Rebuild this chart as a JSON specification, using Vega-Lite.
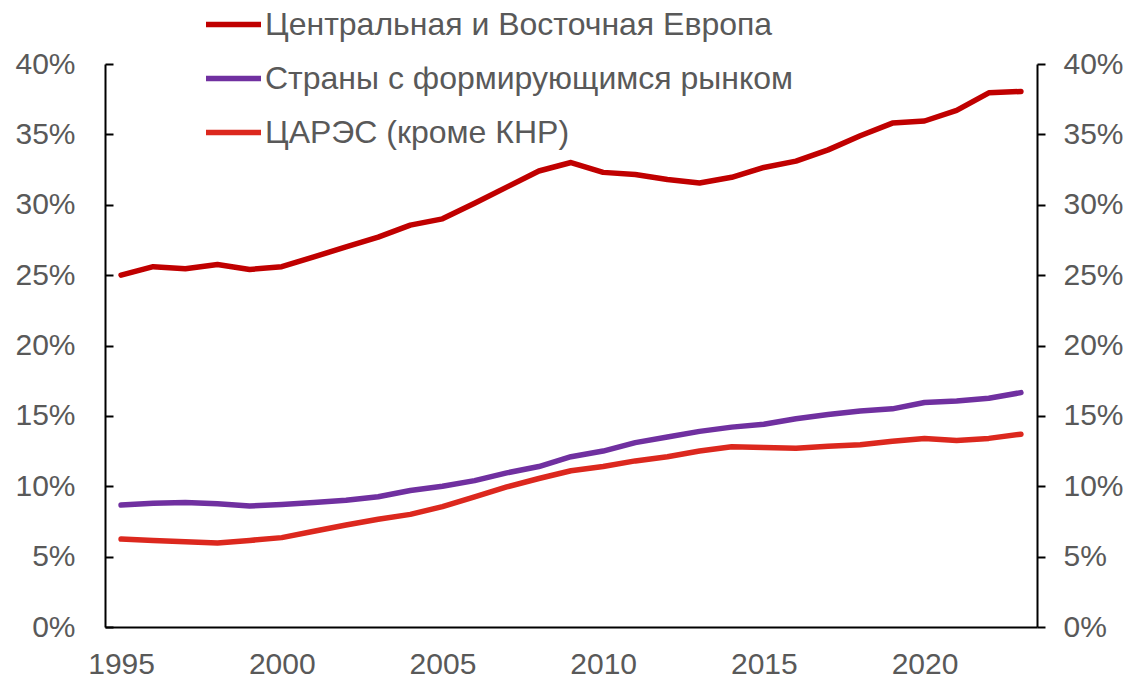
{
  "$schema": "https://vega.github.io/schema/vega-lite/v6.json",
  "width": 932,
  "height": 563,
  "autosize": {"type": "none"},
  "padding": {"left": 105, "top": 64, "right": 95, "bottom": 51},
  "background": "white",
  "config": {"view": {"stroke": null}, "font": "Liberation Sans"},
  "data": {
    "values": [
      {"year": 1995, "series": "Центральная и Восточная Европа", "value": 0.25},
      {"year": 1996, "series": "Центральная и Восточная Европа", "value": 0.256},
      {"year": 1997, "series": "Центральная и Восточная Европа", "value": 0.2545},
      {"year": 1998, "series": "Центральная и Восточная Европа", "value": 0.2575},
      {"year": 1999, "series": "Центральная и Восточная Европа", "value": 0.254},
      {"year": 2000, "series": "Центральная и Восточная Европа", "value": 0.256},
      {"year": 2001, "series": "Центральная и Восточная Европа", "value": 0.263},
      {"year": 2002, "series": "Центральная и Восточная Европа", "value": 0.27},
      {"year": 2003, "series": "Центральная и Восточная Европа", "value": 0.277},
      {"year": 2004, "series": "Центральная и Восточная Европа", "value": 0.2855},
      {"year": 2005, "series": "Центральная и Восточная Европа", "value": 0.29},
      {"year": 2006, "series": "Центральная и Восточная Европа", "value": 0.301},
      {"year": 2007, "series": "Центральная и Восточная Европа", "value": 0.3125},
      {"year": 2008, "series": "Центральная и Восточная Европа", "value": 0.324},
      {"year": 2009, "series": "Центральная и Восточная Европа", "value": 0.33},
      {"year": 2010, "series": "Центральная и Восточная Европа", "value": 0.323},
      {"year": 2011, "series": "Центральная и Восточная Европа", "value": 0.3215},
      {"year": 2012, "series": "Центральная и Восточная Европа", "value": 0.318},
      {"year": 2013, "series": "Центральная и Восточная Европа", "value": 0.3155},
      {"year": 2014, "series": "Центральная и Восточная Европа", "value": 0.3195},
      {"year": 2015, "series": "Центральная и Восточная Европа", "value": 0.3265},
      {"year": 2016, "series": "Центральная и Восточная Европа", "value": 0.331},
      {"year": 2017, "series": "Центральная и Восточная Европа", "value": 0.339},
      {"year": 2018, "series": "Центральная и Восточная Европа", "value": 0.349},
      {"year": 2019, "series": "Центральная и Восточная Европа", "value": 0.358},
      {"year": 2020, "series": "Центральная и Восточная Европа", "value": 0.3595},
      {"year": 2021, "series": "Центральная и Восточная Европа", "value": 0.367},
      {"year": 2022, "series": "Центральная и Восточная Европа", "value": 0.3795},
      {"year": 2023, "series": "Центральная и Восточная Европа", "value": 0.3805},
      {"year": 1995, "series": "Страны с формирующимся рынком", "value": 0.0867},
      {"year": 1996, "series": "Страны с формирующимся рынком", "value": 0.088},
      {"year": 1997, "series": "Страны с формирующимся рынком", "value": 0.0885},
      {"year": 1998, "series": "Страны с формирующимся рынком", "value": 0.0875},
      {"year": 1999, "series": "Страны с формирующимся рынком", "value": 0.086},
      {"year": 2000, "series": "Страны с формирующимся рынком", "value": 0.087},
      {"year": 2001, "series": "Страны с формирующимся рынком", "value": 0.0885},
      {"year": 2002, "series": "Страны с формирующимся рынком", "value": 0.09},
      {"year": 2003, "series": "Страны с формирующимся рынком", "value": 0.0925},
      {"year": 2004, "series": "Страны с формирующимся рынком", "value": 0.097},
      {"year": 2005, "series": "Страны с формирующимся рынком", "value": 0.1},
      {"year": 2006, "series": "Страны с формирующимся рынком", "value": 0.104},
      {"year": 2007, "series": "Страны с формирующимся рынком", "value": 0.1095},
      {"year": 2008, "series": "Страны с формирующимся рынком", "value": 0.114},
      {"year": 2009, "series": "Страны с формирующимся рынком", "value": 0.121},
      {"year": 2010, "series": "Страны с формирующимся рынком", "value": 0.125},
      {"year": 2011, "series": "Страны с формирующимся рынком", "value": 0.131},
      {"year": 2012, "series": "Страны с формирующимся рынком", "value": 0.135},
      {"year": 2013, "series": "Страны с формирующимся рынком", "value": 0.139},
      {"year": 2014, "series": "Страны с формирующимся рынком", "value": 0.142},
      {"year": 2015, "series": "Страны с формирующимся рынком", "value": 0.144},
      {"year": 2016, "series": "Страны с формирующимся рынком", "value": 0.148},
      {"year": 2017, "series": "Страны с формирующимся рынком", "value": 0.151},
      {"year": 2018, "series": "Страны с формирующимся рынком", "value": 0.1535},
      {"year": 2019, "series": "Страны с формирующимся рынком", "value": 0.155},
      {"year": 2020, "series": "Страны с формирующимся рынком", "value": 0.1595},
      {"year": 2021, "series": "Страны с формирующимся рынком", "value": 0.1605},
      {"year": 2022, "series": "Страны с формирующимся рынком", "value": 0.1625},
      {"year": 2023, "series": "Страны с формирующимся рынком", "value": 0.1665},
      {"year": 1995, "series": "ЦАРЭС (кроме КНР)", "value": 0.0625},
      {"year": 1996, "series": "ЦАРЭС (кроме КНР)", "value": 0.0615},
      {"year": 1997, "series": "ЦАРЭС (кроме КНР)", "value": 0.0605},
      {"year": 1998, "series": "ЦАРЭС (кроме КНР)", "value": 0.0597},
      {"year": 1999, "series": "ЦАРЭС (кроме КНР)", "value": 0.0615},
      {"year": 2000, "series": "ЦАРЭС (кроме КНР)", "value": 0.0635},
      {"year": 2001, "series": "ЦАРЭС (кроме КНР)", "value": 0.068},
      {"year": 2002, "series": "ЦАРЭС (кроме КНР)", "value": 0.0725},
      {"year": 2003, "series": "ЦАРЭС (кроме КНР)", "value": 0.0765},
      {"year": 2004, "series": "ЦАРЭС (кроме КНР)", "value": 0.08},
      {"year": 2005, "series": "ЦАРЭС (кроме КНР)", "value": 0.0855},
      {"year": 2006, "series": "ЦАРЭС (кроме КНР)", "value": 0.0925},
      {"year": 2007, "series": "ЦАРЭС (кроме КНР)", "value": 0.0995},
      {"year": 2008, "series": "ЦАРЭС (кроме КНР)", "value": 0.1055},
      {"year": 2009, "series": "ЦАРЭС (кроме КНР)", "value": 0.111},
      {"year": 2010, "series": "ЦАРЭС (кроме КНР)", "value": 0.114},
      {"year": 2011, "series": "ЦАРЭС (кроме КНР)", "value": 0.118},
      {"year": 2012, "series": "ЦАРЭС (кроме КНР)", "value": 0.121},
      {"year": 2013, "series": "ЦАРЭС (кроме КНР)", "value": 0.125},
      {"year": 2014, "series": "ЦАРЭС (кроме КНР)", "value": 0.128},
      {"year": 2015, "series": "ЦАРЭС (кроме КНР)", "value": 0.1275},
      {"year": 2016, "series": "ЦАРЭС (кроме КНР)", "value": 0.127},
      {"year": 2017, "series": "ЦАРЭС (кроме КНР)", "value": 0.1285},
      {"year": 2018, "series": "ЦАРЭС (кроме КНР)", "value": 0.1295},
      {"year": 2019, "series": "ЦАРЭС (кроме КНР)", "value": 0.132},
      {"year": 2020, "series": "ЦАРЭС (кроме КНР)", "value": 0.134},
      {"year": 2021, "series": "ЦАРЭС (кроме КНР)", "value": 0.1325},
      {"year": 2022, "series": "ЦАРЭС (кроме КНР)", "value": 0.134},
      {"year": 2023, "series": "ЦАРЭС (кроме КНР)", "value": 0.137}
    ]
  },
  "layer": [
    {
      "mark": {"type": "line", "strokeWidth": 5.5, "strokeCap": "round", "strokeJoin": "round"},
      "encoding": {
        "x": {
          "field": "year", "type": "quantitative",
          "scale": {"domain": [1994.5, 2023.5], "nice": false, "zero": false},
          "axis": {
            "values": [1995, 2000, 2005, 2010, 2015, 2020], "format": "d", "title": null, "grid": false,
            "ticks": false, "domainColor": "black", "domainWidth": 2, "labelFontSize": 30,
            "labelColor": "#595959", "labelPadding": 22, "labelFlush": false
          }
        },
        "y": {
          "field": "value", "type": "quantitative",
          "scale": {"domain": [0, 0.4], "nice": false},
          "axis": {
            "orient": "left", "values": [0, 0.05, 0.1, 0.15, 0.2, 0.25, 0.3, 0.35, 0.4], "format": ".0%",
            "title": null, "grid": false, "tickSize": -8, "tickWidth": 2, "tickColor": "black",
            "domainColor": "black", "domainWidth": 2, "labelFontSize": 30, "labelColor": "#595959",
            "labelPadding": 38
          }
        },
        "color": {
          "field": "series", "type": "nominal",
          "scale": {
            "domain": ["Центральная и Восточная Европа", "Страны с формирующимся рынком", "ЦАРЭС (кроме КНР)"],
            "range": ["#C00000", "#7030A0", "#DC281E"]
          },
          "legend": {
            "orient": "none", "legendX": 98, "legendY": -70, "title": null,
            "symbolType": "stroke", "symbolStrokeWidth": 5.5, "symbolSize": 3025,
            "labelFontSize": 32, "labelColor": "#595959", "labelOffset": 1, "rowPadding": 7,
            "labelLimit": 0
          }
        }
      }
    },
    {
      "mark": {"type": "line", "opacity": 0},
      "encoding": {
        "x": {
          "field": "year", "type": "quantitative",
          "scale": {"domain": [1994.5, 2023.5], "nice": false, "zero": false},
          "axis": {
            "values": [1995, 2000, 2005, 2010, 2015, 2020], "format": "d", "title": null, "grid": false,
            "ticks": false, "domainColor": "black", "domainWidth": 2, "labelFontSize": 30,
            "labelColor": "#595959", "labelPadding": 22, "labelFlush": false
          }
        },
        "y": {
          "field": "value", "type": "quantitative",
          "scale": {"domain": [0, 0.4], "nice": false},
          "axis": {
            "orient": "right", "values": [0, 0.05, 0.1, 0.15, 0.2, 0.25, 0.3, 0.35, 0.4], "format": ".0%",
            "title": null, "grid": false, "tickSize": 8, "tickWidth": 2, "tickColor": "black",
            "domainColor": "black", "domainWidth": 2, "labelFontSize": 30, "labelColor": "#595959",
            "labelPadding": 18
          }
        },
        "detail": {"field": "series"}
      }
    }
  ],
  "resolve": {"scale": {"y": "independent"}}
}
